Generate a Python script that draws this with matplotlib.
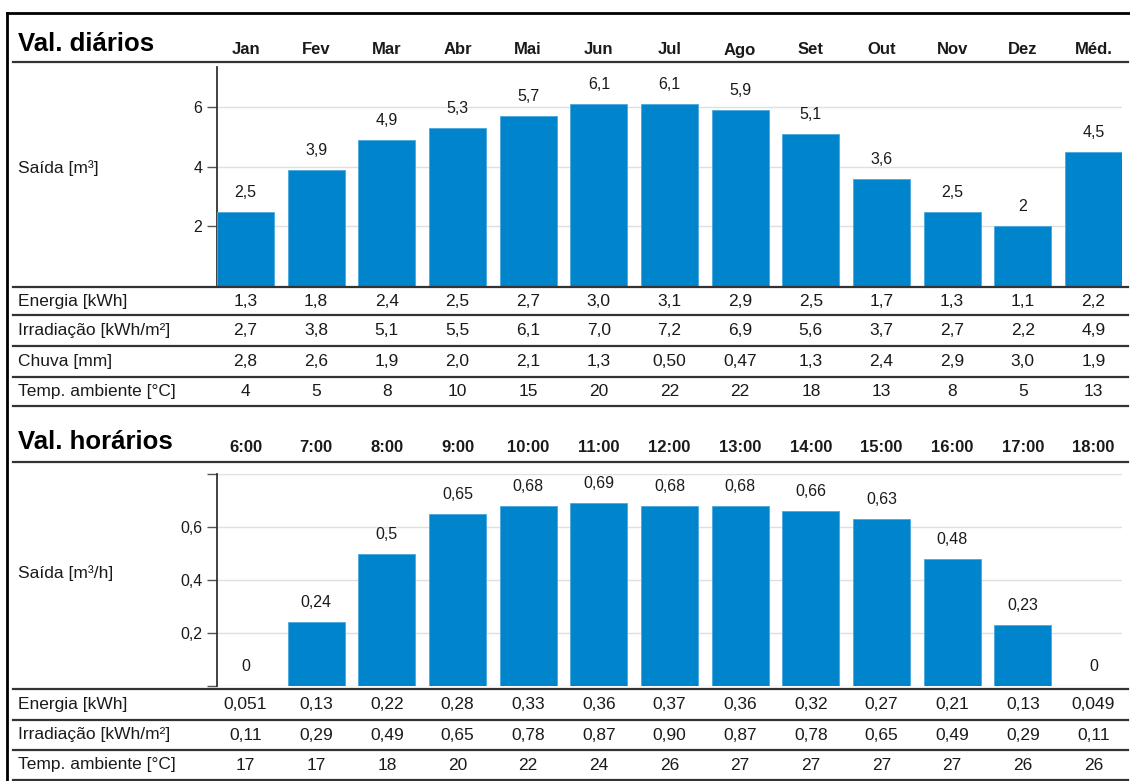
import matplotlib
matplotlib.use('Agg')
import matplotlib.pyplot as plt
from matplotlib.lines import Line2D
from matplotlib import transforms

plt.rcParams['font.family'] = ['Liberation Sans', 'DejaVu Sans']

# daily values
months = ['Jan', 'Fev', 'Mar', 'Abr', 'Mai', 'Jun', 'Jul', 'Ago', 'Set', 'Out', 'Nov', 'Dez', 'Méd.']
daily_output = [2.5, 3.9, 4.9, 5.3, 5.7, 6.1, 6.1, 5.9, 5.1, 3.6, 2.5, 2, 4.5]
daily_energy = [1.3, 1.8, 2.4, 2.5, 2.7, 3.0, 3.1, 2.9, 2.5, 1.7, 1.3, 1.1, 2.2]
daily_irrad = [2.7, 3.8, 5.1, 5.5, 6.1, 7.0, 7.2, 6.9, 5.6, 3.7, 2.7, 2.2, 4.9]
daily_rain = [2.8, 2.6, 1.9, 2.0, 2.1, 1.3, 0.50, 0.47, 1.3, 2.4, 2.9, 3.0, 1.9]
daily_temp = [4, 5, 8, 10, 15, 20, 22, 22, 18, 13, 8, 5, 13]

# hourly values
hours = ['6:00', '7:00', '8:00', '9:00', '10:00', '11:00', '12:00', '13:00', '14:00', '15:00', '16:00', '17:00', '18:00']
hourly_output = [0, 0.24, 0.5, 0.65, 0.68, 0.69, 0.68, 0.68, 0.66, 0.63, 0.48, 0.23, 0]
hourly_energy = [0.051, 0.13, 0.22, 0.28, 0.33, 0.36, 0.37, 0.36, 0.32, 0.27, 0.21, 0.13, 0.049]
hourly_irrad = [0.11, 0.29, 0.49, 0.65, 0.78, 0.87, 0.90, 0.87, 0.78, 0.65, 0.49, 0.29, 0.11]
hourly_temp = [17, 17, 18, 20, 22, 24, 26, 27, 27, 27, 27, 26, 26]

W, H = 1130, 781
fig = plt.figure(figsize=(W / 100, H / 100), dpi=100)
fig.patch.set_facecolor('white')

BAR = '#0085cc'
TXT = '#1a1a1a'
LINE = '#333333'


def fx(x):
    return x / W


def fy(y):
    return 1 - y / H


def hline(y, lw=1.5, x0=13, x1=1128, color=LINE):
    fig.add_artist(Line2D([fx(x0), fx(x1)], [fy(y), fy(y)], transform=fig.transFigure,
                          color=color, lw=lw))


def fmt2(v):
    return '{:#.2g}'.format(v).rstrip('.').replace('.', ',')


def fmtbar(v):
    return '{:g}'.format(v).replace('.', ',')


def section(title, heads, values, ytop, ybot, header_y, header_line, ylim, yticks, yticklabels,
            ylabel, ylabel_y, rows, row_lines):
    ax = fig.add_axes([fx(217), fy(ybot), fx(1122) - fx(217), fy(ytop) - fy(ybot)])
    x = list(range(len(values)))
    ax.bar(x, values, width=0.807, color=BAR, edgecolor='#4aa8de', linewidth=0.6, zorder=3)
    ax.set_xlim(-0.4035, 12.4035)
    ax.set_ylim(0, ylim)
    ax.set_yticks(yticks)
    ax.set_yticklabels(yticklabels)
    ax.tick_params(axis='y', length=7.5, width=1, color='#555555', pad=3, labelsize=11.5,
                   labelcolor=TXT)
    ax.tick_params(axis='x', bottom=False, labelbottom=False)
    for s in ['top', 'right', 'bottom']:
        ax.spines[s].set_visible(False)
    ax.spines['left'].set_color(LINE)
    ax.spines['left'].set_linewidth(1.3)
    ax.grid(axis='y', color='#e0e0e0', lw=1, zorder=0)
    ax.set_axisbelow(True)
    for i, v in enumerate(values):
        ax.annotate(fmtbar(v), (i, v), xytext=(0, 14), textcoords='offset points',
                    ha='center', va='center', fontsize=11.5, color=TXT)

    tr = transforms.blended_transform_factory(ax.transData, fig.transFigure)
    fig.text(fx(18), fy(header_y - 4), title, fontsize=18.5, fontweight='bold', color='black',
             va='center', ha='left')
    for i, h in enumerate(heads):
        fig.text(i, fy(header_y + 2), h, transform=tr, fontsize=12, fontweight='bold', color=TXT,
                 ha='center', va='center')
    hline(header_line, lw=1.6)
    fig.text(fx(18), fy(ylabel_y), ylabel, fontsize=12.5, color=TXT, ha='left', va='center')

    for (label, vals, fmt), (y0, y1) in zip(rows, zip(row_lines[:-1], row_lines[1:])):
        yc = fy((y0 + y1) / 2)
        fig.text(fx(18), yc, label, fontsize=12.5, color=TXT, ha='left', va='center')
        for i, v in enumerate(vals):
            fig.text(i, yc, fmt(v), transform=tr, fontsize=12.5, color=TXT,
                     ha='center', va='center')
    for y in row_lines:
        hline(y, lw=1.6)
    return ax


section('Val. diários', months, daily_output, 67, 286, 48, 62, 7.35, [2, 4, 6],
        ['2', '4', '6'], 'Saída [m³]', 168,
        [('Energia [kWh]', daily_energy, fmt2),
         ('Irradiação [kWh/m²]', daily_irrad, fmt2),
         ('Chuva [mm]', daily_rain, fmt2),
         ('Temp. ambiente [°C]', daily_temp, str)],
        [287, 315, 346, 377, 406])

section('Val. horários', hours, hourly_output, 474, 686, 446, 462, 0.8,
        [0, 0.2, 0.4, 0.6, 0.8], ['', '0,2', '0,4', '0,6', ''], 'Saída [m³/h]', 573,
        [('Energia [kWh]', hourly_energy, fmt2),
         ('Irradiação [kWh/m²]', hourly_irrad, fmt2),
         ('Temp. ambiente [°C]', hourly_temp, str)],
        [689, 720, 750, 780])

# outer frame (top and left edges visible)
fig.add_artist(Line2D([fx(7), fx(7)], [fy(13), fy(790)], transform=fig.transFigure,
                      color='black', lw=2))
fig.add_artist(Line2D([fx(7), fx(1135)], [fy(13), fy(13)], transform=fig.transFigure,
                      color='black', lw=2))

fig.savefig('out.png', dpi=100)
